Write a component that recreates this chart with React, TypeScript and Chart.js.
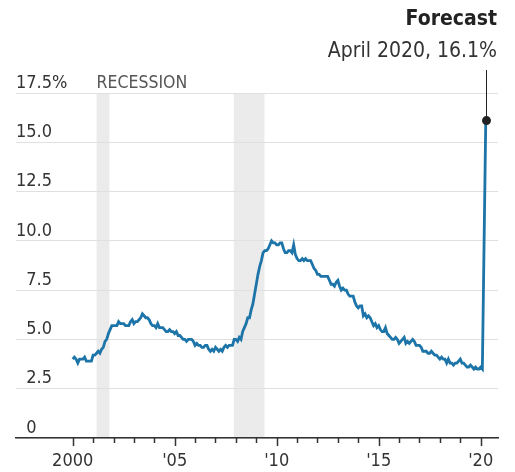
import React, { useEffect, useRef } from "react";
import { Chart, registerables } from "chart.js";

Chart.register(...registerables);

// ---- data ----
const START_YEAR = 2000;
const rates2000 = [4.0, 4.1, 4.0, 3.8, 4.0, 4.0, 4.0, 4.1, 3.9, 3.9, 3.9, 3.9];
const rates2001 = [4.2, 4.2, 4.3, 4.4, 4.3, 4.5, 4.6, 4.9, 5.0, 5.3, 5.5, 5.7];
const rates2002 = [5.7, 5.7, 5.7, 5.9, 5.8, 5.8, 5.8, 5.7, 5.7, 5.7, 5.9, 6.0];
const rates2003 = [5.8, 5.9, 5.9, 6.0, 6.1, 6.3, 6.2, 6.1, 6.1, 6.0, 5.8, 5.7];
const rates2004 = [5.7, 5.6, 5.8, 5.6, 5.6, 5.6, 5.5, 5.4, 5.4, 5.5, 5.4, 5.4];
const rates2005 = [5.3, 5.4, 5.2, 5.2, 5.1, 5.0, 5.0, 4.9, 5.0, 5.0, 5.0, 4.9];
const rates2006 = [4.7, 4.8, 4.7, 4.7, 4.6, 4.6, 4.7, 4.7, 4.5, 4.4, 4.5, 4.4];
const rates2007 = [4.6, 4.5, 4.4, 4.5, 4.4, 4.6, 4.7, 4.6, 4.7, 4.7, 4.7, 5.0];
const rates2008 = [5.0, 4.9, 5.1, 5.0, 5.4, 5.6, 5.8, 6.1, 6.1, 6.5, 6.8, 7.3];
const rates2009 = [7.8, 8.3, 8.7, 9.0, 9.4, 9.5, 9.5, 9.6, 9.8, 10.0, 9.9, 9.9];
const rates2010 = [9.8, 9.8, 9.9, 9.9, 9.6, 9.4, 9.4, 9.5, 9.5, 9.4, 9.8, 9.3];
const rates2011 = [9.1, 9.0, 9.0, 9.1, 9.0, 9.1, 9.0, 9.0, 9.0, 8.8, 8.6, 8.5];
const rates2012 = [8.3, 8.3, 8.2, 8.2, 8.2, 8.2, 8.2, 8.0, 7.8, 7.8, 7.7, 7.9];
const rates2013 = [8.0, 7.7, 7.5, 7.6, 7.5, 7.5, 7.3, 7.2, 7.2, 7.2, 6.9, 6.7];
const rates2014 = [6.6, 6.7, 6.7, 6.2, 6.3, 6.1, 6.2, 6.1, 5.9, 5.7, 5.8, 5.6];
const rates2015 = [5.7, 5.5, 5.4, 5.4, 5.6, 5.3, 5.2, 5.1, 5.0, 5.0, 5.1, 5.0];
const rates2016 = [4.8, 4.9, 5.0, 5.1, 4.8, 4.9, 4.8, 4.9, 5.0, 4.9, 4.7, 4.7];
const rates2017 = [4.7, 4.6, 4.4, 4.4, 4.4, 4.3, 4.3, 4.4, 4.3, 4.2, 4.2, 4.1];
const rates2018 = [4.0, 4.1, 4.0, 4.0, 3.8, 4.0, 3.8, 3.8, 3.7, 3.8, 3.8, 3.9];
const rates2019 = [4.0, 3.8, 3.8, 3.7, 3.6, 3.6, 3.7, 3.6, 3.5, 3.6, 3.5, 3.5];
const rates2020 = [3.6, 3.5];

const forecastYear = 2020.25; // April 2020
const forecastValue = 16.1;
const forecastTitle = "Forecast";
const forecastLabel = "April 2020, 16.1%";

const recessionStarts = [2001.17, 2007.9];
const recessionEnds = [2001.8, 2009.4];
const recessionLabel = "RECESSION";

const xTickYears = [2000, 2001, 2002, 2003, 2004, 2005, 2006, 2007, 2008, 2009, 2010,
  2011, 2012, 2013, 2014, 2015, 2016, 2017, 2018, 2019, 2020];
const xMajorYears = [2000, 2005, 2010, 2015, 2020];
const xMajorLabels = ["2000", "'05", "'10", "'15", "'20"];

const yTickValues = [0, 2.5, 5, 7.5, 10, 12.5, 15, 17.5];
// "0" is padded with a figure space + punctuation space so it lines up with "2.5"
const yTickLabels = ["0\u2008\u2007", "2.5", "5.0", "7.5", "10.0", "12.5", "15.0", "17.5"];
const yTopSuffix = "%";

// ---- styles ----
const FONT = '"Liberation Sans Narrow", "DejaVu Sans Condensed", "Liberation Sans", sans-serif';
const LINE_COLOR = "#1c74a8";
const TEXT_COLOR = "#333333";
const Y_FONT_SIZE = 18;

const monthlyRates = [
  ...rates2000, ...rates2001, ...rates2002, ...rates2003, ...rates2004, ...rates2005,
  ...rates2006, ...rates2007, ...rates2008, ...rates2009, ...rates2010, ...rates2011,
  ...rates2012, ...rates2013, ...rates2014, ...rates2015, ...rates2016, ...rates2017,
  ...rates2018, ...rates2019, ...rates2020,
];

const decorPlugin = {
  id: "decor",
  beforeDraw(chart: any) {
    const { ctx, chartArea, scales } = chart;
    const x = scales.x;
    ctx.save();
    ctx.fillStyle = "#ebebeb";
    recessionStarts.forEach((s, i) => {
      const x0 = x.getPixelForValue(s);
      const x1 = x.getPixelForValue(recessionEnds[i]);
      ctx.fillRect(x0, chartArea.top, x1 - x0, chartArea.bottom - chartArea.top);
    });
    ctx.restore();
  },
  afterDraw(chart: any) {
    const { ctx, chartArea, scales } = chart;
    const x = scales.x;
    const y = scales.y;
    ctx.save();
    // x tick marks
    ctx.strokeStyle = "#333";
    ctx.lineWidth = 1.5;
    xTickYears.forEach((yr) => {
      const px = Math.round(x.getPixelForValue(yr)) + 0.5;
      const len = xMajorYears.includes(yr) ? 8 : 5;
      ctx.beginPath();
      ctx.moveTo(px, chartArea.bottom);
      ctx.lineTo(px, chartArea.bottom + len);
      ctx.stroke();
    });
    // % suffix on top y label
    ctx.font = `${Y_FONT_SIZE}px ${FONT}`;
    ctx.fillStyle = TEXT_COLOR;
    ctx.textAlign = "left";
    ctx.textBaseline = "middle";
    const topY = y.getPixelForValue(yTickValues[yTickValues.length - 1]) - 10;
    const topW = ctx.measureText(yTickLabels[yTickLabels.length - 1]).width;
    ctx.fillText(yTopSuffix, chartArea.left + topW, topY);
    // recession label
    ctx.font = `17.5px ${FONT}`;
    ctx.fillStyle = "#555";
    ctx.fillText(recessionLabel, x.getPixelForValue(recessionStarts[0]), topY);
    // forecast annotation
    const fx = Math.round(x.getPixelForValue(forecastYear)) + 0.5;
    const fy = y.getPixelForValue(forecastValue);
    ctx.strokeStyle = "#222";
    ctx.lineWidth = 1;
    ctx.beginPath();
    ctx.moveTo(fx, 70);
    ctx.lineTo(fx, fy);
    ctx.stroke();
    ctx.fillStyle = "#222";
    ctx.beginPath();
    ctx.arc(fx, fy, 4.5, 0, Math.PI * 2);
    ctx.fill();
    ctx.textAlign = "right";
    ctx.font = `bold 21px ${FONT}`;
    ctx.fillStyle = "#222";
    ctx.fillText(forecastTitle, 497, 20);
    ctx.font = `21px ${FONT}`;
    ctx.fillStyle = TEXT_COLOR;
    ctx.fillText(forecastLabel, 497, 52);
    ctx.restore();
  },
};

export default function App() {
  const ref = useRef<HTMLCanvasElement | null>(null);
  useEffect(() => {
    if (!ref.current) return;
    const points = monthlyRates.map((v, i) => ({ x: START_YEAR + i / 12, y: v }));
    points.push({ x: forecastYear, y: forecastValue });
    const chart = new Chart(ref.current, {
      type: "line",
      data: {
        datasets: [
          {
            data: points,
            borderColor: LINE_COLOR,
            borderWidth: 2.8,
            pointRadius: 0,
            tension: 0,
            fill: false,
          },
        ],
      },
      options: {
        animation: false,
        responsive: false,
        events: [],
        layout: { padding: { left: 16, right: 17, top: 93, bottom: 0 } },
        plugins: { legend: { display: false }, tooltip: { enabled: false } },
        scales: {
          x: {
            type: "linear",
            min: 1997.22,
            max: 2020.85,
            afterBuildTicks: (scale: any) => {
              scale.ticks = xTickYears.map((v) => ({ value: v }));
            },
            afterFit: (scale: any) => {
              scale.height = 34;
            },
            grid: { display: false, drawTicks: false },
            border: { display: true, color: "#333", width: 1.5 },
            ticks: {
              autoSkip: false,
              maxRotation: 0,
              padding: 13,
              color: TEXT_COLOR,
              font: { family: FONT, size: 18, lineHeight: 1.2 },
              callback: (value: any) => {
                const idx = xMajorYears.indexOf(Number(value));
                return idx >= 0 ? xMajorLabels[idx] : "";
              },
            },
          },
          y: {
            min: 0,
            max: 17.5,
            afterBuildTicks: (scale: any) => {
              scale.ticks = yTickValues.map((v) => ({ value: v }));
            },
            afterFit: (scale: any) => {
              scale.width = 0;
            },
            grid: { color: "#e0e0e0", lineWidth: 1, drawTicks: false },
            border: { display: false },
            ticks: {
              mirror: true,
              crossAlign: "far",
              padding: 0,
              labelOffset: -10,
              color: TEXT_COLOR,
              font: { family: FONT, size: Y_FONT_SIZE },
              callback: (value: any) => {
                const idx = yTickValues.indexOf(Number(value));
                return idx >= 0 ? yTickLabels[idx] : "";
              },
            },
          },
        },
      },
      plugins: [decorPlugin],
    });
    return () => chart.destroy();
  }, []);
  return (
    <div style={{ position: "absolute", left: 0, top: 0, width: 515, height: 472, background: "#fff" }}>
      <canvas ref={ref} width={515} height={472} style={{ display: "block" }} />
    </div>
  );
}
